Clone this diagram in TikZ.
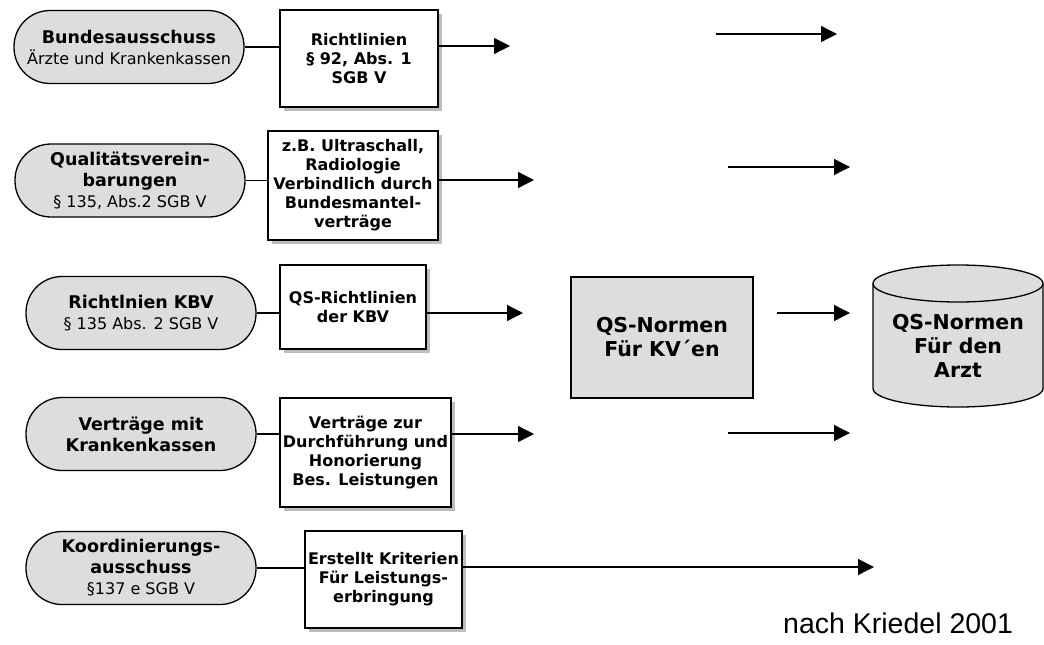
\documentclass[tikz,border=0pt]{standalone}
\usepackage{fontspec}
\setmainfont{DejaVu Sans}
\newfontfamily\arialfont{Liberation Sans}
\usetikzlibrary{arrows.meta,shadows}
\definecolor{pillgray}{HTML}{DDDDDD}
\definecolor{shadowgray}{HTML}{BDBDBD}
\newcommand\regline{\mdseries\fontsize{16}{21}\selectfont}
\tikzset{
  pill/.style={draw, line width=1.3pt, fill=pillgray, rounded corners=36pt,
    minimum width=230pt, minimum height=73pt, inner sep=0pt, align=center,
    font=\fontsize{17.5}{21}\selectfont\bfseries},
  txtbox/.style={draw, line width=1.3pt, fill=white, inner sep=0pt, align=center,
    font=\fontsize{16}{19}\selectfont\bfseries,
    general shadow={fill=shadowgray, shadow xshift=4pt, shadow yshift=-4pt}},
  bignorm/.style={inner sep=0pt, align=center, font=\fontsize{20.5}{24}\selectfont\bfseries},
  link/.style={line width=1.3pt},
  arr/.style={line width=1.3pt, -{Triangle[length=16pt,width=16pt]}},
}
\begin{document}
\begin{tikzpicture}[x=1pt,y=-1pt]
\useasboundingbox (0,0) rectangle (1044,645);
% pills
\node[pill] (p1) at (129,47) {Bundesausschuss\\{\regline Ärzte und Krankenkassen}};
\node[pill] (p2) at (130,180.5) {Qualitätsverein-\\barungen\\{\regline § 135, Abs.2 SGB V}};
\node[pill] (p3) at (141,313) {Richtlnien KBV\\{\regline § 135 Abs. 2 SGB V}};
\node[pill] (p4) at (141,434) {Verträge mit\\Krankenkassen};
\node[pill] (p5) at (141,568) {Koordinierungs-\\ausschuss\\{\regline §137 e SGB V}};
% boxes
\node[txtbox, minimum width=158pt, minimum height=97pt] (b1) at (359,58.5) {Richtlinien\\§ 92, Abs. 1\\SGB V};
\node[txtbox, minimum width=170pt, minimum height=109pt] (b2) at (353,185.5) {z.B. Ultraschall,\\Radiologie\\Verbindlich durch\\Bundesmantel-\\verträge};
\node[txtbox, minimum width=146pt, minimum height=84pt] (b3) at (353,307) {QS-Richtlinien\\der KBV};
\node[txtbox, minimum width=171pt, minimum height=109pt] (b4) at (365.5,452.5) {Verträge zur\\Durchführung und\\Honorierung\\Bes. Leistungen};
\node[txtbox, minimum width=157pt, minimum height=97pt] (b5) at (383.5,579.5) {Erstellt Kriterien\\Für Leistungs-\\erbringung};
% pill -> box
\foreach \i in {1,...,5} {\draw[link] (p\i.east) -- (p\i.east -| b\i.west);}
% box -> free arrows
\coordinate (t1) at (510,46);
\coordinate (t2) at (534,180);
\coordinate (t3) at (523,313);
\coordinate (t4) at (534,434);
\coordinate (t5) at (874,567);
\foreach \i in {1,...,5} {\draw[arr] (b\i.east |- t\i) -- (t\i);}
% central box
\node[draw, line width=1.3pt, fill=pillgray, minimum width=182pt, minimum height=121pt,
  bignorm] (qs) at (662,337.5) {QS-Normen\\Für KV´en};
% right arrows
\coordinate (r1s) at (716,34);  \coordinate (r1e) at (837,34);
\coordinate (r2s) at (728,167); \coordinate (r2e) at (850,167);
\coordinate (r3s) at (777,313); \coordinate (r3e) at (850,313);
\coordinate (r4s) at (728,433); \coordinate (r4e) at (850,433);
\foreach \i in {1,...,4} {\draw[arr] (r\i s) -- (r\i e);}
% cylinder
\filldraw[line width=1.3pt, fill=pillgray] (873,283.5) -- (873,388.5)
  arc[start angle=180, end angle=360, x radius=85pt, y radius=18.5pt]
  -- (1043,283.5);
\filldraw[line width=1.3pt, fill=pillgray] (958,283.5) ellipse [x radius=85pt, y radius=18.5pt];
\node[bignorm] (cyl) at (958,346) {QS-Normen\\Für den\\Arzt};
% source
\node[anchor=base west, inner sep=0pt, font=\arialfont\fontsize{28.5}{32}\selectfont] (src) at (783,633) {nach Kriedel 2001};
\end{tikzpicture}
\end{document}
